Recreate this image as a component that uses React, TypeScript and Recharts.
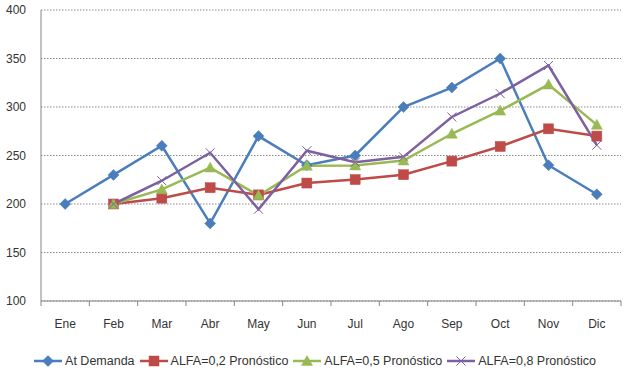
import React from 'react';
import { LineChart, Line, XAxis, YAxis, CartesianGrid, Legend } from 'recharts';

const months = ['Ene', 'Feb', 'Mar', 'Abr', 'May', 'Jun', 'Jul', 'Ago', 'Sep', 'Oct', 'Nov', 'Dic'];
const demanda = [200, 230, 260, 180, 270, 240, 250, 300, 320, 350, 240, 210];
const alfa02 = [null, 200, 206, 216.8, 209.4, 221.6, 225.2, 230.2, 244.2, 259.3, 277.5, 270.0];
const alfa05 = [null, 200, 215, 237.5, 208.8, 239.4, 239.7, 244.8, 272.4, 296.2, 323.1, 281.6];
const alfa08 = [null, 200, 224, 252.8, 194.6, 254.9, 243.0, 248.6, 289.7, 313.9, 342.8, 260.6];
const yTicks = [100, 150, 200, 250, 300, 350, 400];

const seriesNames = ['At Demanda', 'ALFA=0,2 Pronóstico', 'ALFA=0,5 Pronóstico', 'ALFA=0,8 Pronóstico'];
const colors = ['#4A7EBB', '#BE4B48', '#98B954', '#7D60A0'];

const data = months.map((m, i) => ({
  month: m,
  d: demanda[i],
  a2: alfa02[i],
  a5: alfa05[i],
  a8: alfa08[i],
}));

const FONT = '"Liberation Sans", Arial, sans-serif';
const AXIS = '#868686';

type MarkerKind = 'diamond' | 'square' | 'triangle' | 'x';

function marker(kind: MarkerKind, cx: number, cy: number, color: string, key?: any) {
  if (kind === 'diamond') {
    const r = 5.5;
    return <path key={key} d={`M${cx},${cy - r}L${cx + r},${cy}L${cx},${cy + r}L${cx - r},${cy}Z`} fill={color} stroke={color} strokeWidth={0.5} />;
  }
  if (kind === 'square') {
    const r = 5;
    return <rect key={key} x={cx - r} y={cy - r} width={2 * r} height={2 * r} fill={color} stroke={color} strokeWidth={0.5} />;
  }
  if (kind === 'triangle') {
    const r = 5.5;
    return <path key={key} d={`M${cx},${cy - r}L${cx + r},${cy + r * 0.8}L${cx - r},${cy + r * 0.8}Z`} fill={color} stroke={color} strokeWidth={0.5} />;
  }
  const r = 4.5;
  return <path key={key} d={`M${cx - r},${cy - r}L${cx + r},${cy + r}M${cx - r},${cy + r}L${cx + r},${cy - r}`} stroke={color} strokeWidth={1} fill="none" />;
}

const makeDot = (kind: MarkerKind, color: string) => (props: any) => {
  const { cx, cy, index } = props;
  if (cx == null || cy == null || props.value == null) return <g key={`e-${kind}-${index}`} />;
  return marker(kind, cx, cy, color, `${kind}-${index}`);
};

const kinds: MarkerKind[] = ['diamond', 'square', 'triangle', 'x'];

const XTick = (props: any) => {
  const { x, y, payload, index } = props;
  const off = payload && payload.offset != null ? payload.offset : 0;
  return (
    <g>
      <line x1={x - off} x2={x - off} y1={y} y2={y + 5} stroke={AXIS} strokeWidth={1} />
      {index === months.length - 1 && (
        <line x1={x + off} x2={x + off} y1={y} y2={y + 5} stroke={AXIS} strokeWidth={1} />
      )}
      <text x={x} y={y + 23} textAnchor="middle" dy="0.355em" fontSize={12} fontFamily={FONT} fill="#333">
        {payload.value}
      </text>
    </g>
  );
};

const LegendContent = () => (
  <div
    style={{
      display: 'flex',
      justifyContent: 'center',
      alignItems: 'center',
      height: 26,
      width: 626,
      fontFamily: FONT,
      fontSize: 12.5,
      color: '#333',
      paddingLeft: 4,
      boxSizing: 'border-box',
    }}
  >
    {seriesNames.map((n, i) => (
      <div key={n} style={{ display: 'flex', alignItems: 'center', marginRight: i < 3 ? 5 : 0 }}>
        <svg width={28} height={12} style={{ marginRight: 3 }}>
          <line x1={0} x2={28} y1={6} y2={6} stroke={colors[i]} strokeWidth={2.5} />
          {marker(kinds[i], 14, 6, colors[i])}
        </svg>
        <span style={{ whiteSpace: 'nowrap' }}>{n}</span>
      </div>
    ))}
  </div>
);

export default function App() {
  return (
    <div style={{ position: 'absolute', left: 0, top: 0, width: 626, height: 378, background: '#fff' }}>
      <LineChart width={626} height={378} data={data} margin={{ top: 10, right: 5, left: 0, bottom: 0 }}>
        <CartesianGrid vertical={false} stroke="#8a8a8a" strokeDasharray="1.5 1.5" />
        <XAxis
          dataKey="month"
          scale="band"
          height={47}
          axisLine={{ stroke: AXIS }}
          tickLine={false}
          tickSize={0}
          tickMargin={0}
          tick={<XTick />}
          interval={0}
        />
        <YAxis
          domain={[100, 400]}
          ticks={yTicks}
          width={41}
          axisLine={{ stroke: AXIS }}
          tickLine={false}
          tickSize={0}
          tickMargin={15}
          tick={{ fontSize: 12, fontFamily: FONT, fill: '#333' }}
          interval={0}
        />
        <Legend verticalAlign="bottom" height={30} content={<LegendContent />} wrapperStyle={{ left: 0, width: 626 }} />
        <Line name={seriesNames[0]} dataKey="d" stroke={colors[0]} strokeWidth={2.5} dot={makeDot('diamond', colors[0])} activeDot={false} isAnimationActive={false} />
        <Line name={seriesNames[1]} dataKey="a2" stroke={colors[1]} strokeWidth={2.5} dot={makeDot('square', colors[1])} activeDot={false} isAnimationActive={false} />
        <Line name={seriesNames[2]} dataKey="a5" stroke={colors[2]} strokeWidth={2.5} dot={makeDot('triangle', colors[2])} activeDot={false} isAnimationActive={false} />
        <Line name={seriesNames[3]} dataKey="a8" stroke={colors[3]} strokeWidth={2.5} dot={makeDot('x', colors[3])} activeDot={false} isAnimationActive={false} />
      </LineChart>
    </div>
  );
}
